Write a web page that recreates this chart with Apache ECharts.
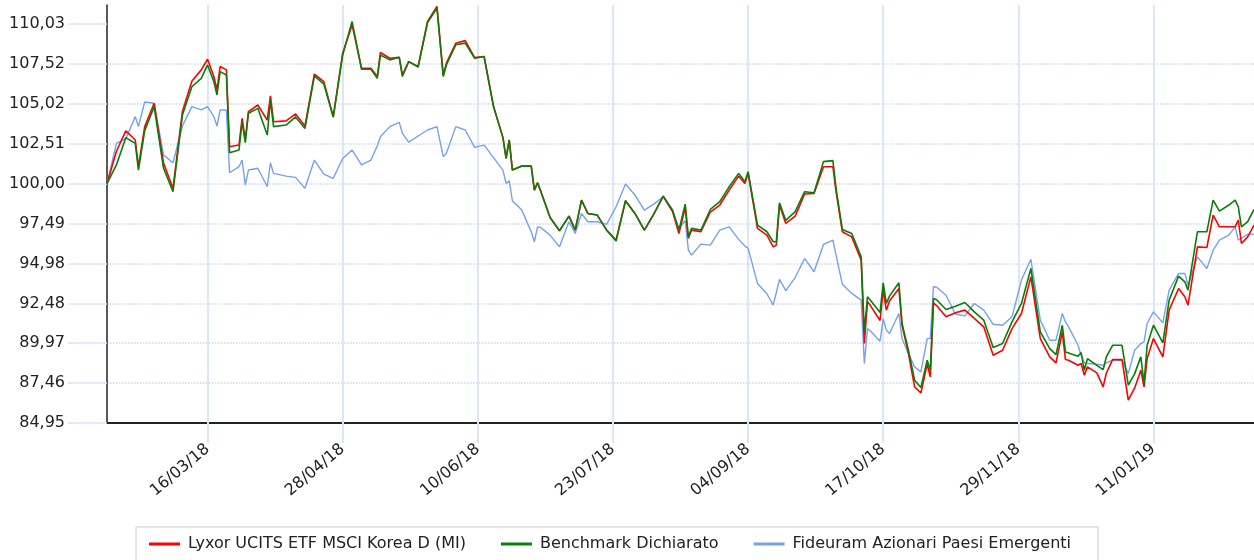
<!DOCTYPE html>
<html>
<head>
<meta charset="utf-8">
<script src="https://cdn.jsdelivr.net/npm/echarts@6/dist/echarts.min.js"></script>
<style>
  html, body { margin: 0; padding: 0; background: #fff; }
  #chart { width: 1254px; height: 560px; }
</style>
</head>
<body>
<div id="chart"></div>
<script>
// calendar days counted from 12/02/2018
const startDate = '2018-02-12';
const endDay = 365;

const days = [
  0, 3, 6, 9, 10, 12, 15, 18, 21, 24, 27, 30, 32, 34, 35, 36, 38, 39, 42, 43,
  44, 45, 48, 51, 52, 53, 57, 60, 63, 66, 69, 72, 75, 78, 81, 84, 86, 87, 90, 93,
  94, 96, 99, 102, 105, 107, 108, 111, 114, 117, 120, 123, 126, 127, 128, 129, 132, 135, 136, 137,
  138, 141, 144, 147, 149, 151, 153, 156, 159, 162, 165, 168, 171, 174, 177, 180, 182, 184, 185, 186,
  189, 192, 195, 198, 201, 203, 204, 207, 210, 212, 213, 214, 216, 219, 222, 225, 228, 231, 232, 234,
  237, 240, 241, 242, 243, 246, 247, 248, 249, 252, 253, 255, 257, 259, 261, 262, 263, 264, 267, 270,
  273, 276, 279, 282, 285, 288, 291, 294, 297, 300, 302, 304, 305, 306, 309, 310, 311, 312, 315, 317,
  318, 320, 323, 325, 327, 329, 330, 331, 333, 336, 338, 341, 343, 344, 347, 350, 352, 354, 357, 359,
  360, 361, 363, 365
];

const lyxor = [
  100, 102.04, 103.32, 102.75, 101.07, 103.59, 105.06, 101.28, 99.71, 104.55, 106.44, 107.16, 107.83, 106.74, 105.9, 107.37, 107.16, 102.33, 102.43, 104.11,
  102.75, 104.53, 104.95, 104.0, 105.52, 103.9, 103.95, 104.39, 103.63, 106.9, 106.42, 104.22, 108.21, 109.99, 107.26, 107.26, 106.74, 108.25, 107.89, 107.95,
  106.84, 107.68, 107.37, 110.2, 111.15, 106.84, 107.58, 108.84, 109.0, 107.93, 108.0, 104.85, 102.9, 101.59, 102.75, 100.86, 101.11, 101.11, 99.6, 100.06,
  99.54, 97.88, 97.04, 97.96, 97.08, 98.97, 98.13, 98.03, 97.08, 96.45, 98.93, 98.13, 97.08, 98.09, 99.22, 98.24, 96.87, 98.5, 96.56, 97.08,
  96.98, 98.22, 98.66, 99.6, 100.48, 100.02, 100.69, 97.19, 96.77, 96.03, 96.14, 98.66, 97.5, 97.96, 99.35, 99.39, 101.07, 101.07, 99.5, 96.98,
  96.66, 95.19, 89.95, 92.57, 92.32, 91.4, 93.31, 92.05, 92.63, 93.41, 91.1, 89.36, 87.22, 86.84, 88.65, 87.85, 92.51, 92.34, 91.63, 91.88,
  92.05, 91.53, 91.0, 89.21, 89.53, 90.89, 91.84, 94.14, 90.26, 89.11, 88.73, 90.68, 88.94, 88.9, 88.58, 88.69, 87.95, 88.48, 88.1, 87.22,
  88.08, 88.94, 88.94, 86.39, 87.14, 88.27, 87.22, 89.0, 90.26, 89.11, 92.05, 93.41, 92.89, 92.36, 96.03, 95.99, 98.03, 97.29, 97.29, 97.29,
  97.71, 96.24, 96.66, 97.4
];

const benchmark = [
  100, 101.18, 102.9, 102.54, 100.86, 103.34, 104.85, 100.97, 99.5, 104.32, 106.1, 106.63, 107.47, 106.42, 105.58, 107.05, 106.84, 101.95, 102.12, 103.9,
  102.58, 104.43, 104.74, 103.06, 105.27, 103.59, 103.69, 104.2, 103.48, 106.78, 106.27, 104.18, 108.1, 110.2, 107.2, 107.2, 106.63, 108.1, 107.79, 107.95,
  106.74, 107.68, 107.33, 110.14, 111.05, 106.74, 107.47, 108.74, 108.84, 107.89, 108.0, 104.85, 102.9, 101.59, 102.75, 100.86, 101.11, 101.11, 99.6, 100.06,
  99.54, 97.88, 97.04, 97.96, 97.08, 98.97, 98.13, 98.03, 97.08, 96.4, 98.93, 98.13, 97.08, 98.09, 99.22, 98.34, 97.08, 98.72, 96.66, 97.19,
  97.08, 98.38, 98.87, 99.81, 100.65, 100.13, 100.76, 97.4, 96.98, 96.35, 96.35, 98.8, 97.69, 98.24, 99.5, 99.43, 101.39, 101.45, 99.71, 97.12,
  96.87, 95.4, 90.68, 92.89, 92.65, 91.9, 93.77, 92.47, 92.93, 93.77, 91.21, 89.57, 87.64, 87.18, 88.9, 88.27, 92.78, 92.7, 92.09, 92.3,
  92.53, 91.94, 91.42, 89.7, 89.95, 91.31, 92.47, 94.67, 90.68, 89.63, 89.25, 91.1, 89.42, 89.36, 89.15, 89.38, 88.27, 89.0, 88.58, 88.31,
  89.11, 89.84, 89.84, 87.33, 88.04, 89.11, 87.43, 89.84, 91.1, 89.99, 92.68, 94.19, 93.83, 93.31, 96.98, 96.98, 98.97, 98.28, 98.66, 98.97,
  98.55, 97.29, 97.61, 98.38
];

const fideuram = [
  100, 102.54, 102.83, 104.22, 103.59, 105.14, 105.06, 101.8, 101.32, 103.63, 104.85, 104.64, 104.85, 104.22, 103.63, 104.64, 104.64, 100.69, 101.07, 101.49,
  99.92, 100.86, 100.97, 99.81, 101.32, 100.65, 100.48, 100.4, 99.71, 101.49, 100.61, 100.34, 101.59, 102.12, 101.18, 101.49, 102.37, 102.96, 103.59, 103.86,
  103.17, 102.62, 103.0, 103.38, 103.59, 101.7, 101.91, 103.59, 103.38, 102.29, 102.43, 101.64, 100.86, 100.02, 100.19, 98.93, 98.34, 96.98, 96.35, 97.29,
  97.25, 96.77, 96.03, 97.61, 96.87, 98.13, 97.61, 97.61, 97.44, 98.55, 99.98, 99.29, 98.34, 98.72, 99.18, 98.24, 97.19, 97.67, 95.82, 95.51,
  96.2, 96.14, 97.08, 97.29, 96.5, 96.08, 95.95, 93.73, 93.08, 92.36, 93.16, 93.98, 93.28, 94.1, 95.3, 94.46, 96.18, 96.45, 95.51, 93.68,
  93.1, 92.68, 88.69, 90.89, 90.72, 90.1, 91.5, 90.79, 90.58, 91.84, 90.26, 89.32, 88.48, 88.16, 90.26, 90.26, 93.52, 93.49, 92.99, 91.79,
  91.69, 92.47, 92.05, 91.16, 91.1, 91.63, 93.94, 95.24, 91.42, 90.16, 90.16, 91.84, 91.31, 91.0, 89.84, 89.2, 88.75, 88.69, 88.65, 88.58,
  88.73, 88.9, 88.9, 88.06, 89.53, 89.95, 90.05, 91.21, 91.94, 91.25, 93.31, 94.35, 94.35, 93.62, 95.4, 94.67, 95.82, 96.45, 96.77, 97.29,
  96.45, 96.56, 96.81, 96.83
];

const xTickDates = ['2018-03-16', '2018-04-28', '2018-06-10', '2018-07-23', '2018-09-04', '2018-10-17', '2018-11-29', '2019-01-11'];

const yMin = 84.952;
const yStep = 2.508;
const yTickCount = 11;

const DAY = 86400000;
const t0 = Date.parse(startDate);
const xTicks = xTickDates.map(d => Date.parse(d));
const yTicks = [];
for (let i = 0; i < yTickCount; i++) yTicks.push(yMin + i * yStep);

const toPoints = vals => vals.map((v, i) => [t0 + days[i] * DAY, v]);

const pad = n => (n < 10 ? '0' : '') + n;
const fmtDate = ts => {
  const d = new Date(ts);
  return pad(d.getUTCDate()) + '/' + pad(d.getUTCMonth() + 1) + '/' + pad(d.getUTCFullYear() % 100);
};

const gridBlue = '#dbe6f6';
const textColor = '#222';

const chart = echarts.init(document.getElementById('chart'));
chart.setOption({
  animation: false,
  grid: { left: 107, right: 0, top: 5, bottom: 137 },
  legend: {
    left: 136,
    top: 527,
    data: ['Lyxor UCITS ETF MSCI Korea D (MI)', 'Benchmark Dichiarato', 'Fideuram Azionari Paesi Emergenti'],
    icon: 'rect',
    itemWidth: 31,
    itemHeight: 3,
    itemGap: 35,
    padding: [9, 27, 12, 13],
    borderColor: '#ccc',
    borderWidth: 1,
    textStyle: { fontFamily: 'DejaVu Sans', fontSize: 16, color: textColor, padding: [0, 0, 0, 3] }
  },
  xAxis: [
    {
      type: 'value',
      min: t0,
      max: t0 + endDay * DAY,
      axisLine: { lineStyle: { color: '#222', width: 2 } },
      axisTick: { customValues: xTicks, length: 20, lineStyle: { color: gridBlue, width: 2 } },
      axisLabel: {
        customValues: xTicks,
        formatter: fmtDate,
        rotate: 40,
        margin: 24,
        fontFamily: 'DejaVu Sans',
        fontSize: 16,
        color: textColor
      },
      splitLine: { show: false }
    },
    {
      type: 'value',
      min: t0,
      max: t0 + endDay * DAY,
      position: 'bottom',
      axisLine: { show: false },
      axisLabel: { show: false, customValues: xTicks },
      axisTick: { customValues: xTicks, inside: true, length: 418, lineStyle: { color: gridBlue, width: 2 } },
      splitLine: { show: false }
    }
  ],
  yAxis: {
    type: 'value',
    min: yMin,
    max: 111.24,
    interval: yStep,
    axisLine: { show: true, lineStyle: { color: '#222', width: 1.5 } },
    axisTick: { show: true, customValues: yTicks, length: 39, lineStyle: { color: gridBlue, width: 1.5 } },
    axisLabel: {
      customValues: yTicks,
      margin: 42,
      formatter: v => v.toFixed(2).replace('.', ','),
      fontFamily: 'DejaVu Sans',
      fontSize: 16,
      color: textColor
    },
    splitLine: { showMaxLine: false, lineStyle: { type: 'dotted', color: '#c9d9ef', width: 1.5 } }
  },
  series: [
    {
      name: 'Fideuram Azionari Paesi Emergenti',
      type: 'line',
      data: toPoints(fideuram),
      showSymbol: false,
      color: '#75a1f0',
      lineStyle: { width: 1.4 }
    },
    {
      name: 'Lyxor UCITS ETF MSCI Korea D (MI)',
      type: 'line',
      data: toPoints(lyxor),
      showSymbol: false,
      color: '#ff0000',
      lineStyle: { width: 1.6 }
    },
    {
      name: 'Benchmark Dichiarato',
      type: 'line',
      data: toPoints(benchmark),
      showSymbol: false,
      color: '#0b7d0b',
      lineStyle: { width: 1.6 }
    }
  ]
});
</script>
</body>
</html>
